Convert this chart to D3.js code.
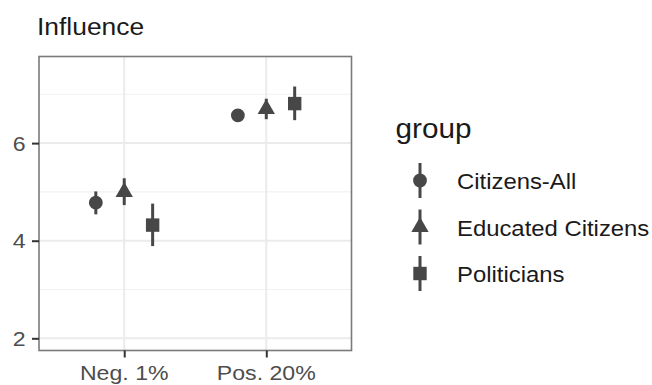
<!DOCTYPE html>
<html>
<head>
<meta charset="utf-8">
<script src="https://cdn.jsdelivr.net/npm/d3@7"></script>
<style>
  html, body { margin: 0; padding: 0; background: #ffffff; }
  svg { display: block; }
  text { font-family: "Liberation Sans", Arial, Helvetica, sans-serif; }
</style>
</head>
<body>
<div id="chart"></div>
<script>
// Conditions on the x axis and the three respondent groups
const categories = ["Neg. 1%", "Pos. 20%"];
const groups = ["Citizens-All", "Educated Citizens", "Politicians"];

// Mean influence score per condition, with lower / upper interval bounds
const citizensAllMean  = [4.78, 6.57];
const citizensAllLow   = [4.54, 6.50];
const citizensAllHigh  = [5.01, 6.64];

const educatedMean     = [5.00, 6.70];
const educatedLow      = [4.73, 6.49];
const educatedHigh     = [5.28, 6.91];

const politiciansMean  = [4.32, 6.81];
const politiciansLow   = [3.89, 6.47];
const politiciansHigh  = [4.76, 7.16];

const yMajorTicks = [2, 4, 6];
const yMinorTicks = [3, 5, 7];

const seriesTable = [
  { group: groups[0], mean: citizensAllMean, low: citizensAllLow, high: citizensAllHigh, shape: d3.symbolCircle,   size: 150 },
  { group: groups[1], mean: educatedMean,    low: educatedLow,    high: educatedHigh,    shape: d3.symbolTriangle, size: 130 },
  { group: groups[2], mean: politiciansMean, low: politiciansLow, high: politiciansHigh, shape: d3.symbolSquare,   size: 180 }
];

const W = 652, H = 385;
const panel = { left: 39, top: 56.5, right: 351.5, bottom: 350.5 };
const ink = "#474747";
const sx = 1.1; // horizontal text stretch

const svg = d3.select("#chart").append("svg")
  .attr("width", W).attr("height", H);

svg.append("rect").attr("width", W).attr("height", H).attr("fill", "#ffffff");

const x = d3.scalePoint().domain(categories)
  .range([panel.left, panel.right]).padding(0.6);
const dodge = d3.scalePoint().domain(groups)
  .range([-0.2 * x.step(), 0.2 * x.step()]);
const y = d3.scaleLinear().domain([1.75, 7.775])
  .range([panel.bottom, panel.top]);

function label(sel, px, py, str, size, color, anchor) {
  return sel.append("text")
    .attr("transform", `translate(${px},${py}) scale(${sx},1)`)
    .attr("font-size", size)
    .attr("fill", color)
    .attr("text-anchor", anchor || "start")
    .text(str);
}

// panel grid
const grid = svg.append("g");
grid.selectAll(".minor").data(yMinorTicks).join("line")
  .attr("x1", panel.left).attr("x2", panel.right)
  .attr("y1", d => y(d)).attr("y2", d => y(d))
  .attr("stroke", "#f1f1f1").attr("stroke-width", 1.1);
grid.selectAll(".majory").data(yMajorTicks).join("line")
  .attr("x1", panel.left).attr("x2", panel.right)
  .attr("y1", d => y(d)).attr("y2", d => y(d))
  .attr("stroke", "#ebebeb").attr("stroke-width", 2);
grid.selectAll(".majorx").data(categories).join("line")
  .attr("x1", d => x(d)).attr("x2", d => x(d))
  .attr("y1", panel.top).attr("y2", panel.bottom)
  .attr("stroke", "#ebebeb").attr("stroke-width", 2);

// interval bars and points
const rows = seriesTable.flatMap(s => categories.map((c, i) => ({
  s, cat: c, mean: s.mean[i], low: s.low[i], high: s.high[i]
})));

const marks = svg.append("g");
marks.selectAll("line").data(rows).join("line")
  .attr("x1", d => x(d.cat) + dodge(d.s.group))
  .attr("x2", d => x(d.cat) + dodge(d.s.group))
  .attr("y1", d => y(d.low)).attr("y2", d => y(d.high))
  .attr("stroke", ink).attr("stroke-width", 3);
marks.selectAll("path").data(rows).join("path")
  .attr("transform", d => `translate(${x(d.cat) + dodge(d.s.group)},${y(d.mean)})`)
  .attr("d", d => d3.symbol(d.s.shape, d.s.size)())
  .attr("fill", ink);

// panel border
svg.append("rect")
  .attr("x", panel.left).attr("y", panel.top)
  .attr("width", panel.right - panel.left).attr("height", panel.bottom - panel.top)
  .attr("fill", "none").attr("stroke", "#7a7a7a").attr("stroke-width", 1.6);

// axes
const yAxis = svg.append("g")
  .attr("transform", `translate(${panel.left},0)`)
  .call(d3.axisLeft(y).tickValues(yMajorTicks).tickSize(7).tickFormat(""));
yAxis.select(".domain").remove();
yAxis.selectAll(".tick line").attr("stroke", "#333333").attr("stroke-width", 2);
yMajorTicks.forEach(t => label(svg, 25.5, y(t) + 7.5, String(t), 21, "#4d4d4d", "end"));

const xAxis = svg.append("g")
  .attr("transform", `translate(0,${panel.bottom})`)
  .call(d3.axisBottom(x).tickSize(7).tickFormat(""));
xAxis.select(".domain").remove();
xAxis.selectAll(".tick line").attr("stroke", "#333333").attr("stroke-width", 2);
categories.forEach(c => label(svg, x(c), 380, c, 21, "#4d4d4d", "middle"));

// title
label(svg, 37, 35, "Influence", 24, "#1a1a1a");

// legend
const legend = svg.append("g");
label(legend, 395.5, 138, "group", 27, "#1a1a1a");
const keyX = 420, keyY0 = 180.5, keyStep = 46.5;
seriesTable.forEach((s, i) => {
  const ky = keyY0 + i * keyStep;
  legend.append("line")
    .attr("x1", keyX).attr("x2", keyX)
    .attr("y1", ky - 17.5).attr("y2", ky + 17.5)
    .attr("stroke", ink).attr("stroke-width", 3);
  legend.append("path")
    .attr("transform", `translate(${keyX},${ky})`)
    .attr("d", d3.symbol(s.shape, s.size)())
    .attr("fill", ink);
  label(legend, 457, ky + 8.5, s.group, 21.7, "#1a1a1a");
});
</script>
</body>
</html>
